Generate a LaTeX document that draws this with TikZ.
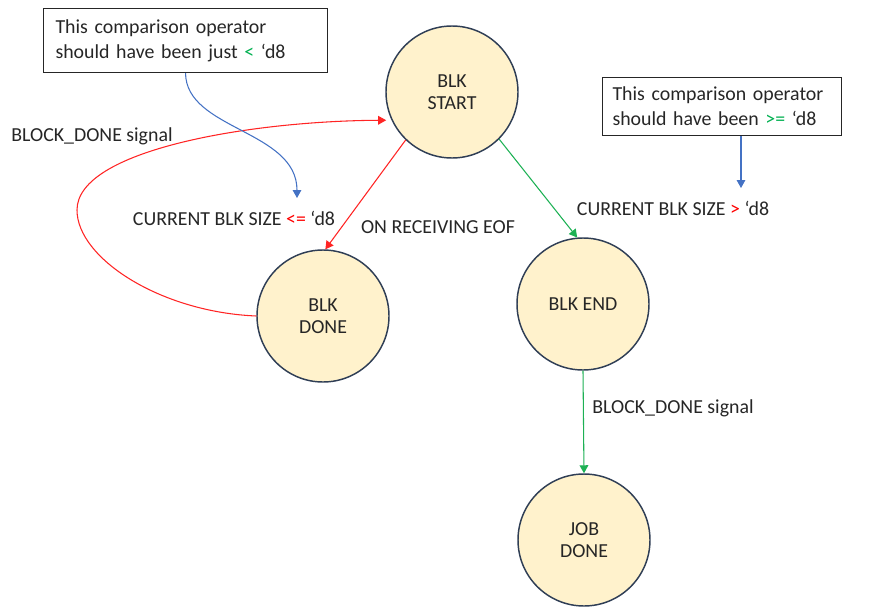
\documentclass[tikz,border=0pt]{standalone}
\usepackage{fontspec}
\setmainfont{Carlito}
\usetikzlibrary{arrows.meta}
\definecolor{statefill}{HTML}{FFF2CC}
\definecolor{stateline}{HTML}{2F3E55}
\definecolor{txt}{HTML}{262626}
\definecolor{okgreen}{HTML}{00B050}
\definecolor{badred}{HTML}{FF0000}
\definecolor{noteblue}{HTML}{4472C4}
\definecolor{edgered}{HTML}{FF2424}
\definecolor{edgegreen}{HTML}{1DB154}
\begin{document}
\begin{tikzpicture}[x=0.75pt,y=-0.75pt,
  font=\fontsize{14.9}{16.8}\selectfont, text=txt,
  state/.style={circle, draw=stateline, fill=statefill, line width=1.1pt,
    minimum size=99pt, inner sep=0pt, align=center},
  note/.style={draw=txt, line width=0.8pt, align=left, anchor=north west,
    font=\fontsize{14.9}{18.75}\selectfont},
  lbl/.style={inner sep=0pt},
  tipA/.style={-{Triangle[length=6pt,width=6.5pt]}},
  flowred/.style={tipA, draw=edgered, line width=0.8pt},
  flowgreen/.style={tipA, draw=edgegreen, line width=0.8pt},
  pointer/.style={tipA, draw=noteblue, line width=0.8pt}]
\useasboundingbox (0,0) rectangle (872,607);

% states
\node[state] (start) at (452,92)  {BLK\\START};
\node[state] (done)  at (323,316) {BLK\\DONE};
\node[state] (end)   at (583,304) {BLK END};
\node[state] (job)   at (584,540) {JOB\\DONE};

% remarks
\node[note, text width=195pt, inner xsep=9pt, minimum height=48pt] (note1) at (43,8)
  {This comparison operator\\should have been just \textcolor{okgreen}{<} ‘d8};
\node[note, text width=164pt, inner xsep=7.5pt, minimum height=43.5pt] (note2) at (602,77)
  {This comparison operator\\should have been \textcolor{okgreen}{>=} ‘d8};

% transition labels
\node[lbl] (lblLoop) at (92,136)  {BLOCK\_DONE signal};
\node[lbl] (lblLe)   at (234,218) {CURRENT BLK SIZE \textcolor{badred}{<=} ‘d8};
\node[lbl] (lblEof)  at (438,227) {ON RECEIVING EOF};
\node[lbl] (lblGt)   at (673,208) {CURRENT BLK SIZE \textcolor{badred}{>} ‘d8};
\node[lbl] (lblDone) at (673,408) {BLOCK\_DONE signal};

% transitions
\draw[flowred] (start.226) -- (done.88);
\draw[flowgreen] (start.315) -- (end.95);
\draw[flowgreen] (end.south) -- (job.north);
\coordinate (loopL) at (77,210);
\draw[flowred, shorten >=4pt] (done.west) .. controls (160,312) and (77,258) .. (loopL)
  .. controls (77,150) and (250,121) .. (start.205);

% pointers from the remarks
\coordinate (tip1) at (297,198);
\draw[pointer] (note1.south) .. controls (186,130) and (297,130) .. (tip1);
\coordinate (tip2) at (741,188);
\draw[pointer] (note2.south -| tip2) -- (tip2);
\end{tikzpicture}
\end{document}
